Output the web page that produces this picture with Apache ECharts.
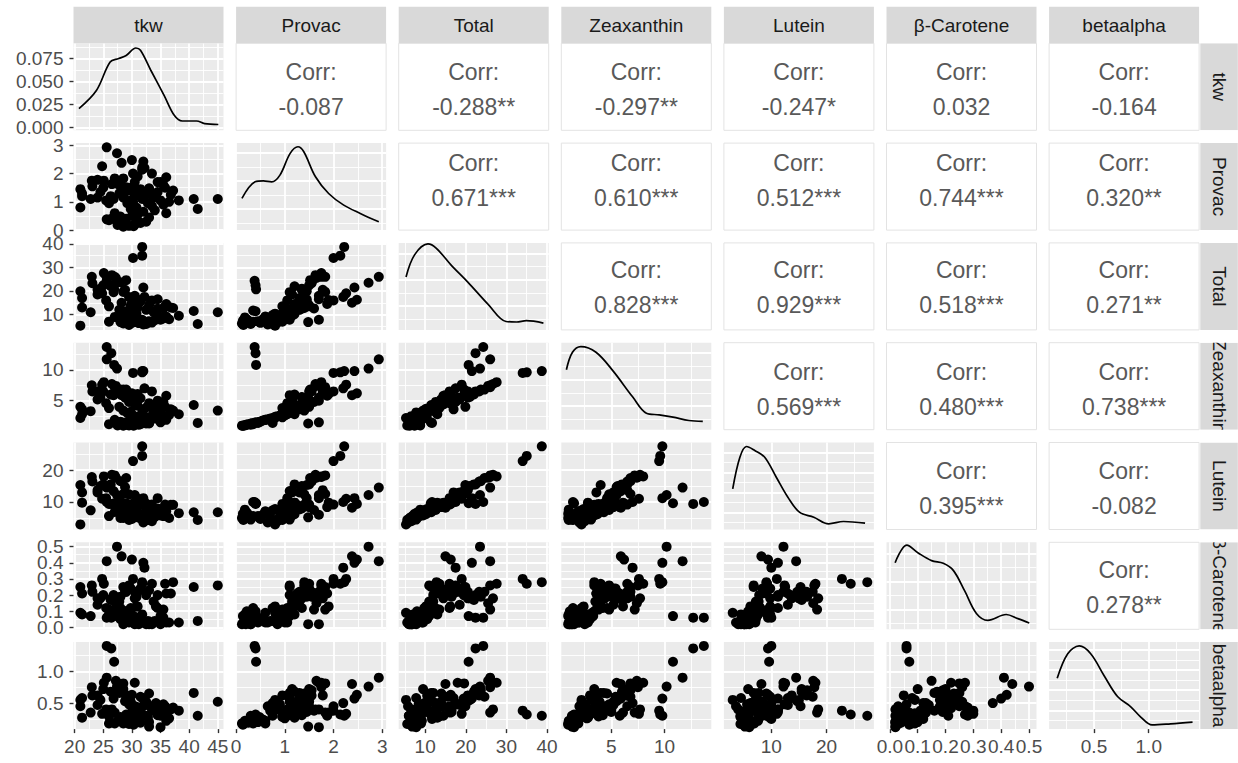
<!DOCTYPE html>
<html><head><meta charset="utf-8">
<script src="https://cdn.jsdelivr.net/npm/echarts@6/dist/echarts.min.js"></script>
<style>html,body{margin:0;padding:0;background:#fff}#c{width:1238px;height:763px}</style>
</head><body><div id="c"></div>
<script>
// ---------------- DATA ----------------
const varNames = ['tkw', 'Provac', 'Total', 'Zeaxanthin', 'Lutein', 'β-Carotene', 'betaalpha'];

const tkw = [25.6, 26.4, 26.9, 30.2, 31.8, 31.8, 25.6, 27.4, 28.2, 30.0, 32.0, 32.2, 24.8,
  26.5, 27.0, 29.0, 25.0, 30.5, 28.5, 33.5, 31.0, 34.5, 35.5, 29.8, 36.0, 24.0, 33.0, 35.0,
  38.2, 40.8, 45.0,
  21.0, 21.3, 21.3, 22.8, 23.1, 23.0, 24.5, 25.1, 26.3, 27.2, 28.0, 24.0, 25.5, 26.8, 28.8, 29.5, 30.5, 31.0, 31.5,
  32.5, 33.0, 33.8, 34.5, 35.0, 35.8, 36.8, 37.2, 29.2, 30.2, 31.8, 28.5, 32.8, 27.8, 34.2, 30.8, 29.8, 26.0, 36.5,
  28.5, 29.5, 30.5, 31.5, 27.5, 32.5, 28.0, 29.0, 33.0, 30.0, 31.0, 27.0, 32.0, 34.0, 29.8, 41.5, 21.0, 30.8, 33.5,
  35.5, 26.0, 31.2, 30.3, 36.0, 29.0, 28.0];
const provac = [0.38, 0.40, 0.41, 2.00, 2.14, 2.22, 2.93, 2.72, 2.38, 2.48, 2.43, 2.20, 2.26,
  1.63, 1.83, 1.52, 1.50, 1.70, 1.83, 2.00, 1.90, 1.70, 1.60, 1.50, 1.87, 1.78, 1.48, 1.70,
  1.05, 1.10, 1.10,
  1.45, 1.30, 1.20, 1.10, 1.55, 1.75, 1.35, 1.75, 1.20, 1.65, 1.55, 1.15, 1.05, 1.10, 1.35, 1.40, 1.20, 1.30, 1.45,
  1.25, 1.40, 1.15, 1.35, 1.05, 1.50, 1.25, 1.40, 0.95, 1.00, 1.10, 1.15, 0.95, 1.30, 1.20, 1.45, 1.05, 0.95, 1.00,
  0.12, 0.15, 0.20, 0.25, 0.18, 0.30, 0.35, 0.40, 0.45, 0.50, 0.55, 0.60, 0.65, 0.70, 0.75, 0.75, 0.80, 0.80, 0.85,
  0.90, 0.35, 0.30, 0.14, 0.60, 0.22, 0.48];
const total = [24.3, 22.4, 20.7, 34.0, 35.0, 38.7, 26.0, 23.5, 15.0, 16.3, 21.5, 17.5, 19.0,
  26.7, 26.0, 24.6, 22.4, 18.0, 19.6, 16.0, 16.2, 16.5, 12.6, 13.9, 14.5, 20.5, 6.8, 7.8,
  9.5, 11.5, 11.0,
  19.9, 17.0, 13.0, 11.0, 23.3, 26.0, 21.0, 27.6, 22.0, 25.5, 23.7, 18.5, 16.0, 19.5, 20.5, 17.5, 14.5, 13.0, 15.5,
  12.0, 14.0, 11.0, 12.5, 9.0, 13.5, 13.0, 12.8, 10.5, 8.5, 7.8, 9.5, 7.0, 12.0, 10.2, 16.5, 12.5, 13.5, 8.0,
  6.2, 5.6, 6.8, 7.5, 8.8, 6.0, 11.7, 11.4, 7.2, 6.5, 8.0, 9.0, 5.8, 7.6, 9.8, 6.0, 5.3, 10.4, 6.6,
  8.4, 7.0, 6.4, 7.4, 9.2, 8.0, 6.8];
const zeaxanthin = [13.7, 12.7, 10.8, 9.5, 9.6, 9.8, 11.7, 10.2, 5.9, 6.2, 9.8, 7.0, 7.6,
  7.7, 7.2, 6.8, 6.5, 5.5, 6.8, 6.5, 6.1, 5.0, 4.8, 5.2, 5.8, 6.5, 1.3, 1.5,
  2.8, 4.3, 3.4,
  4.0, 3.6, 2.8, 3.3, 6.5, 7.5, 5.6, 8.0, 6.0, 7.4, 6.8, 5.2, 4.6, 5.9, 5.5, 4.8, 4.4, 4.2, 5.4,
  3.9, 4.6, 3.5, 4.2, 2.9, 4.0, 3.6, 3.4, 3.0, 2.6, 3.1, 3.4, 2.3, 4.0, 3.7, 5.0, 3.2, 3.8, 2.7,
  0.95, 1.0, 1.1, 1.2, 1.0, 1.3, 1.4, 1.5, 1.4, 1.6, 1.8, 1.9, 2.0, 2.1, 2.2, 1.4, 2.2, 2.4, 2.5,
  2.6, 1.2, 1.1, 0.95, 1.9, 1.1, 1.6];
const lutein = [10.0, 9.4, 9.6, 22.8, 24.4, 27.4, 14.5, 12.2, 8.2, 9.4, 11.2, 10.0, 11.0,
  18.5, 18.3, 17.5, 15.5, 12.2, 12.5, 9.2, 9.8, 11.2, 7.5, 8.4, 8.4, 13.7, 5.2, 6.0,
  6.5, 6.8, 6.8,
  15.3, 13.0, 9.8, 7.4, 16.4, 17.8, 15.0, 18.0, 15.5, 17.6, 16.5, 13.0, 11.2, 13.4, 14.7, 12.4, 9.8, 8.5, 9.8,
  7.8, 9.1, 7.2, 8.0, 5.8, 9.2, 9.1, 9.1, 7.2, 5.6, 4.5, 5.8, 4.4, 7.7, 6.2, 11.2, 9.0, 9.4, 5.0,
  5.0, 4.4, 5.5, 6.1, 7.6, 4.5, 10.0, 9.6, 5.6, 4.7, 6.0, 6.9, 3.6, 5.3, 7.4, 4.4, 3.0, 7.8, 4.0,
  5.6, 5.6, 5.1, 6.3, 7.1, 6.7, 5.0];
const betaCarotene = [0.06, 0.06, 0.07, 0.30, 0.27, 0.28, 0.41, 0.50, 0.44, 0.42, 0.40, 0.37, 0.30,
  0.18, 0.11, 0.22, 0.20, 0.22, 0.25, 0.27, 0.13, 0.20, 0.11, 0.24, 0.21, 0.18, 0.02, 0.02,
  0.03, 0.25, 0.26,
  0.25, 0.21, 0.08, 0.07, 0.22, 0.26, 0.18, 0.27, 0.17, 0.15, 0.19, 0.14, 0.12, 0.20, 0.22, 0.26, 0.18, 0.22, 0.24,
  0.20, 0.23, 0.16, 0.12, 0.07, 0.27, 0.21, 0.28, 0.05, 0.06, 0.08, 0.10, 0.04, 0.16, 0.13, 0.19, 0.09, 0.11, 0.03,
  0.02, 0.03, 0.02, 0.04, 0.08, 0.02, 0.12, 0.10, 0.03, 0.05, 0.06, 0.09, 0.03, 0.04, 0.12, 0.04, 0.09, 0.13, 0.02,
  0.06, 0.08, 0.02, 0.07, 0.03, 0.10, 0.05];
const betaalpha = [1.40, 1.36, 1.15, 0.38, 0.32, 0.30, 0.90, 0.76, 0.80, 0.63, 0.57, 0.50, 0.33,
  0.40, 0.35, 0.60, 0.72, 0.82, 0.81, 0.45, 0.35, 0.40, 0.38, 0.52, 0.30, 0.62, 0.13, 0.12,
  0.38, 0.66, 0.52,
  0.45, 0.58, 0.27, 0.35, 0.62, 0.75, 0.55, 0.82, 0.68, 0.85, 0.70, 0.47, 0.40, 0.57, 0.53, 0.48, 0.45, 0.42, 0.60,
  0.52, 0.65, 0.38, 0.31, 0.30, 0.45, 0.40, 0.43, 0.62, 0.35, 0.58, 0.72, 0.28, 0.66, 0.50, 0.36, 0.34, 0.29, 0.26,
  0.18, 0.17, 0.20, 0.19, 0.22, 0.30, 0.25, 0.32, 0.20, 0.22, 0.24, 0.18, 0.45, 0.38, 0.50, 0.30, 0.55, 0.44, 0.40,
  0.48, 0.18, 0.21, 0.16, 0.22, 0.20, 0.28];

// axis domains (with ggplot-like expansion)
const tkwRange = [19.8, 46.0];
const provacRange = [0.0, 3.08];
const totalRange = [3.5, 40.4];
const zeaRange = [0.3, 14.4];
const luteinRange = [1.4, 28.6];
const betaRange = [-0.012, 0.527];
const baRange = [0.09, 1.46];

// tick values and labels
const tkwTicks = [20, 25, 30, 35, 40, 45];
const tkwTickLabels = ['20', '25', '30', '35', '40', '45'];
const tkwMinor = [22.5, 27.5, 32.5, 37.5, 42.5];
const provacTicks = [0, 1, 2, 3];
const provacTickLabels = ['0', '1', '2', '3'];
const provacMinor = [0.5, 1.5, 2.5];
const totalTicks = [10, 20, 30, 40];
const totalTickLabels = ['10', '20', '30', '40'];
const totalMinor = [5, 15, 25, 35];
const zeaTicks = [5, 10];
const zeaTickLabels = ['5', '10'];
const zeaMinor = [2.5, 7.5, 12.5];
const luteinTicks = [10, 20];
const luteinTickLabels = ['10', '20'];
const luteinMinor = [5, 15, 25];
const betaTicks = [0, 0.1, 0.2, 0.3, 0.4, 0.5];
const betaTickLabels = ['0.0', '0.1', '0.2', '0.3', '0.4', '0.5'];
const betaMinor = [0.05, 0.15, 0.25, 0.35, 0.45];
const baTicks = [0.5, 1.0];
const baTickLabels = ['0.5', '1.0'];
const baMinor = [0.25, 0.75, 1.25];

// density curves
const densTkwX = [20.75, 23.8, 26.2, 27.7, 29.0, 30.7, 31.5, 33.3, 35.6, 37.4, 38.8, 41.3, 42.7, 45.1];
const densTkwY = [0.0203, 0.040, 0.071, 0.0747, 0.078, 0.0862, 0.0837, 0.062, 0.035, 0.013, 0.0068, 0.0068, 0.004, 0.003];
const densTkwRange = [-0.0033, 0.0913];
const densTkwTicks = [0, 0.025, 0.05, 0.075];
const densTkwTickLabels = ['0.000', '0.025', '0.050', '0.075'];
const densTkwMinor = [0.0125, 0.0375, 0.0625, 0.0875];

const densProvacX = [0.12, 0.39, 0.56, 0.73, 0.90, 1.11, 1.27, 1.39, 1.63, 1.90, 2.21, 2.55, 2.93];
const densProvacY = [0.276, 0.394, 0.401, 0.394, 0.442, 0.597, 0.644, 0.608, 0.430, 0.311, 0.228, 0.169, 0.109];
const densProvacRange = [0.05, 0.67];
const densProvacTicks = [0.2, 0.4, 0.6];
const densProvacMinor = [0.1, 0.3, 0.5];

const densTotalX = [5.3, 7.4, 10.7, 12.7, 16.4, 20.5, 25.5, 29.9, 32.5, 34.9, 39.1];
const densTotalY = [0.0421, 0.0589, 0.0672, 0.0641, 0.0512, 0.0383, 0.0214, 0.0084, 0.0080, 0.0090, 0.0072];
const densTotalRange = [0.002, 0.068];
const densTotalTicks = [0.02, 0.04, 0.06];
const densTotalMinor = [0.01, 0.03, 0.05];

const densZeaX = [0.78, 1.35, 2.14, 3.56, 5.12, 7.0, 8.3, 9.5, 10.8, 12.3, 13.6];
const densZeaY = [0.1188, 0.1518, 0.1625, 0.1518, 0.1175, 0.0674, 0.0363, 0.0331, 0.0288, 0.0224, 0.0206];
const densZeaRange = [0.005, 0.17];
const densZeaTicks = [0.05, 0.10, 0.15];
const densZeaMinor = [0.025, 0.075, 0.125];

const densLuteinX = [3.0, 4.3, 5.5, 7.0, 8.8, 10.9, 13.0, 15.1, 17.7, 20.4, 23.1, 27.0];
const densLuteinY = [0.0437, 0.0753, 0.086, 0.082, 0.0753, 0.0553, 0.0353, 0.0203, 0.0153, 0.0087, 0.011, 0.0093];
const densLuteinRange = [0.003, 0.09];
const densLuteinTicks = [0.02, 0.04, 0.06, 0.08];
const densLuteinMinor = [0.01, 0.03, 0.05, 0.07];

const densBetaX = [0.019, 0.061, 0.102, 0.15, 0.192, 0.228, 0.269, 0.311, 0.352, 0.418, 0.46, 0.501];
const densBetaY = [2.673, 3.30, 3.02, 2.747, 2.65, 2.40, 1.666, 0.865, 0.62, 0.828, 0.68, 0.522];
const densBetaRange = [0.3, 3.4];
const densBetaTicks = [1, 2, 3];
const densBetaMinor = [0.5, 1.5, 2.5];

const densBaX = [0.164, 0.26, 0.365, 0.47, 0.594, 0.715, 0.836, 0.927, 1.03, 1.2, 1.4];
const densBaY = [1.297, 1.911, 2.105, 1.911, 1.355, 0.843, 0.587, 0.331, 0.134, 0.16, 0.203];
const densBaRange = [0.03, 2.2];
const densBaTicks = [0.5, 1.0, 1.5, 2.0];
const densBaMinor = [0.25, 0.75, 1.25, 1.75];

// correlation labels for the upper panels, row by row
const corrLabels = [
  '-0.087', '-0.288**', '-0.297**', '-0.247*', '0.032', '-0.164',
  '0.671***', '0.610***', '0.512***', '0.744***', '0.320**',
  '0.828***', '0.929***', '0.518***', '0.271**',
  '0.569***', '0.480***', '0.738***',
  '0.395***', '-0.082',
  '0.278**'
];

// ---------------- BUILD ----------------
const vars = [
  {data: tkw, range: tkwRange, ticks: tkwTicks, labels: tkwTickLabels, minor: tkwMinor,
   dX: densTkwX, dY: densTkwY, dRange: densTkwRange, dTicks: densTkwTicks, dMinor: densTkwMinor, dLabels: densTkwTickLabels},
  {data: provac, range: provacRange, ticks: provacTicks, labels: provacTickLabels, minor: provacMinor,
   dX: densProvacX, dY: densProvacY, dRange: densProvacRange, dTicks: densProvacTicks, dMinor: densProvacMinor},
  {data: total, range: totalRange, ticks: totalTicks, labels: totalTickLabels, minor: totalMinor,
   dX: densTotalX, dY: densTotalY, dRange: densTotalRange, dTicks: densTotalTicks, dMinor: densTotalMinor},
  {data: zeaxanthin, range: zeaRange, ticks: zeaTicks, labels: zeaTickLabels, minor: zeaMinor,
   dX: densZeaX, dY: densZeaY, dRange: densZeaRange, dTicks: densZeaTicks, dMinor: densZeaMinor},
  {data: lutein, range: luteinRange, ticks: luteinTicks, labels: luteinTickLabels, minor: luteinMinor,
   dX: densLuteinX, dY: densLuteinY, dRange: densLuteinRange, dTicks: densLuteinTicks, dMinor: densLuteinMinor},
  {data: betaCarotene, range: betaRange, ticks: betaTicks, labels: betaTickLabels, minor: betaMinor,
   dX: densBetaX, dY: densBetaY, dRange: densBetaRange, dTicks: densBetaTicks, dMinor: densBetaMinor},
  {data: betaalpha, range: baRange, ticks: baTicks, labels: baTickLabels, minor: baMinor,
   dX: densBaX, dY: densBaY, dRange: densBaRange, dTicks: densBaTicks, dMinor: densBaMinor}
];

const FONT = '"Liberation Sans", Arial, Helvetica, sans-serif';
const X0 = 73.5, CP = 162.6, PW = 150;
const Y0 = 43.3, RP = 99.8, PH = 87;
const corrOff = [28.5, 20, 27.5, 29, 28, 27.5];
const N = 7;

function fmt(ticks, labels) {
  return function (v) {
    for (let i = 0; i < ticks.length; i++) if (Math.abs(ticks[i] - v) < 1e-9) return labels[i];
    return '';
  };
}

function axis(dim, gi, range, vals, opts) {
  const isMinor = opts.minor;
  return {
    type: 'value', gridIndex: gi, min: range[0], max: range[1], scale: true,
    position: dim === 'x' ? 'bottom' : 'left', offset: 0,
    axisLine: {show: false},
    axisTick: {show: !!opts.showTicks, customValues: vals, length: 4, lineStyle: {color: '#333333', width: 1.4}},
    axisLabel: {show: !!opts.showLabels, customValues: opts.labelVals || vals, formatter: opts.fmt || (v => ''),
      showMinLabel: true, showMaxLabel: true,
      color: '#4d4d4d', fontSize: 19, fontFamily: FONT, margin: dim === 'x' ? 8 : 10, hideOverlap: false},
    splitLine: {show: !!opts.grid, lineStyle: {color: '#ffffff', width: isMinor ? 0.9 : 1.8}},
    minorTick: {show: false}, minorSplitLine: {show: false}
  };
}

const grids = [], xAxes = [], yAxes = [], extraY = [], series = [], graphics = [];
let gi = 0;
for (let r = 0; r < N; r++) {
  for (let c = 0; c < N; c++) {
    const left = X0 + c * CP, top = Y0 + r * RP;
    const upper = c > r, diag = c === r;
    grids.push({left: left, top: top, width: PW, height: PH, show: true,
      backgroundColor: upper ? '#ffffff' : '#ebebeb',
      borderColor: upper ? '#e3e3e3' : 'transparent', borderWidth: upper ? 1 : 0, containLabel: false});
    const vx = vars[c], vy = vars[r];
    const showX = (r === N - 1);
    const showY = (c === 0);
    let yRange, yTicks, yMinor, yFmt;
    if (diag) {
      yRange = vy.dRange; yTicks = vy.dTicks; yMinor = vy.dMinor;
      yFmt = vy.dLabels ? fmt(vy.dTicks, vy.dLabels) : null;
    } else {
      yRange = vy.range; yTicks = vy.ticks; yMinor = vy.minor; yFmt = fmt(vy.ticks, vy.labels);
    }
    xAxes.push(axis('x', gi, vx.range, vx.ticks, {showLabels: showX, showTicks: showX, fmt: fmt(vx.ticks, vx.labels), grid: !upper}));
    xAxes.push(axis('x', gi, vx.range, vx.minor, {minor: true, grid: !upper}));
    // densely packed labels: spread them over two axes (every other label) so none is dropped
    let yLabelVals = null;
    if (showY && !diag && yTicks.length > 4) {
      yLabelVals = yTicks.filter((v, i) => i % 2 === 0);
      extraY.push(axis('y', gi, yRange, yTicks, {showLabels: true, showTicks: false, fmt: yFmt, grid: false,
        labelVals: yTicks.filter((v, i) => i % 2 === 1)}));
    }
    yAxes.push(axis('y', gi, yRange, yTicks, {showLabels: showY, showTicks: showY, fmt: yFmt, grid: !upper, labelVals: yLabelVals}));
    yAxes.push(axis('y', gi, yRange, yMinor, {minor: true, grid: !upper}));

    if (diag) {
      const pts = vx.dX.map((x, i) => [x, vx.dY[i]]);
      series.push({type: 'line', xAxisIndex: 2 * gi, yAxisIndex: 2 * gi, data: pts, symbol: 'none',
        smooth: 0.35, silent: true, lineStyle: {color: '#000000', width: 1.7}, z: 5});
    } else if (!upper) {
      const pts = vx.data.map((x, i) => [x, vy.data[i]]);
      series.push({type: 'scatter', xAxisIndex: 2 * gi, yAxisIndex: 2 * gi, data: pts, symbolSize: 10,
        silent: true, itemStyle: {color: '#000000', opacity: 1}, z: 5});
    }
    gi++;
  }
}

// correlation texts
let k = 0;
for (let r = 0; r < N; r++) {
  for (let c = r + 1; c < N; c++) {
    const cx = X0 + c * CP + PW / 2, top = Y0 + r * RP;
    graphics.push({type: 'text', x: cx, y: top + corrOff[r], z: 50,
      style: {text: 'Corr:', fill: '#595959', font: '23px ' + FONT, textAlign: 'center', textVerticalAlign: 'middle'}});
    graphics.push({type: 'text', x: cx, y: top + corrOff[r] + 35, z: 50,
      style: {text: corrLabels[k], fill: '#595959', font: '23px ' + FONT, textAlign: 'center', textVerticalAlign: 'middle'}});
    k++;
  }
}
// top strips
for (let c = 0; c < N; c++) {
  const left = X0 + c * CP;
  graphics.push({type: 'rect', z: 40, shape: {x: left, y: 6.8, width: PW, height: Y0 - 6.8}, style: {fill: '#d9d9d9'}});
  graphics.push({type: 'text', z: 41, x: left + PW / 2, y: (6.8 + Y0) / 2,
    style: {text: varNames[c], fill: '#1a1a1a', font: '19px ' + FONT, textAlign: 'center', textVerticalAlign: 'middle'}});
}
// right strips
const SX = X0 + 6 * CP + PW + 1.2, SW = 37.5;
for (let r = 0; r < N; r++) {
  const top = Y0 + r * RP;
  graphics.push({type: 'rect', z: 40, shape: {x: SX, y: top, width: SW, height: PH}, style: {fill: '#d9d9d9'}});
  graphics.push({type: 'text', z: 41, x: SX + SW / 2, y: top + PH / 2, rotation: -Math.PI / 2,
    style: {text: varNames[r], fill: '#1a1a1a', font: '19px ' + FONT, textAlign: 'center', textVerticalAlign: 'middle'}});
}
// white masks between right strips (clip overflowing strip text)
for (let r = 0; r <= N; r++) {
  const y1 = r === 0 ? 0 : Y0 + (r - 1) * RP + PH;
  const y2 = r === N ? 763 : Y0 + r * RP;
  graphics.push({type: 'rect', z: 45, shape: {x: SX - 0.5, y: y1, width: SW + 2, height: y2 - y1}, style: {fill: '#ffffff'}});
}

const chart = echarts.init(document.getElementById('c'), null, {renderer: 'svg'});
chart.setOption({
  animation: false,
  backgroundColor: '#ffffff',
  textStyle: {fontFamily: FONT},
  grid: grids, xAxis: xAxes, yAxis: yAxes.concat(extraY), series: series, graphic: graphics
});
</script>
</body></html>
